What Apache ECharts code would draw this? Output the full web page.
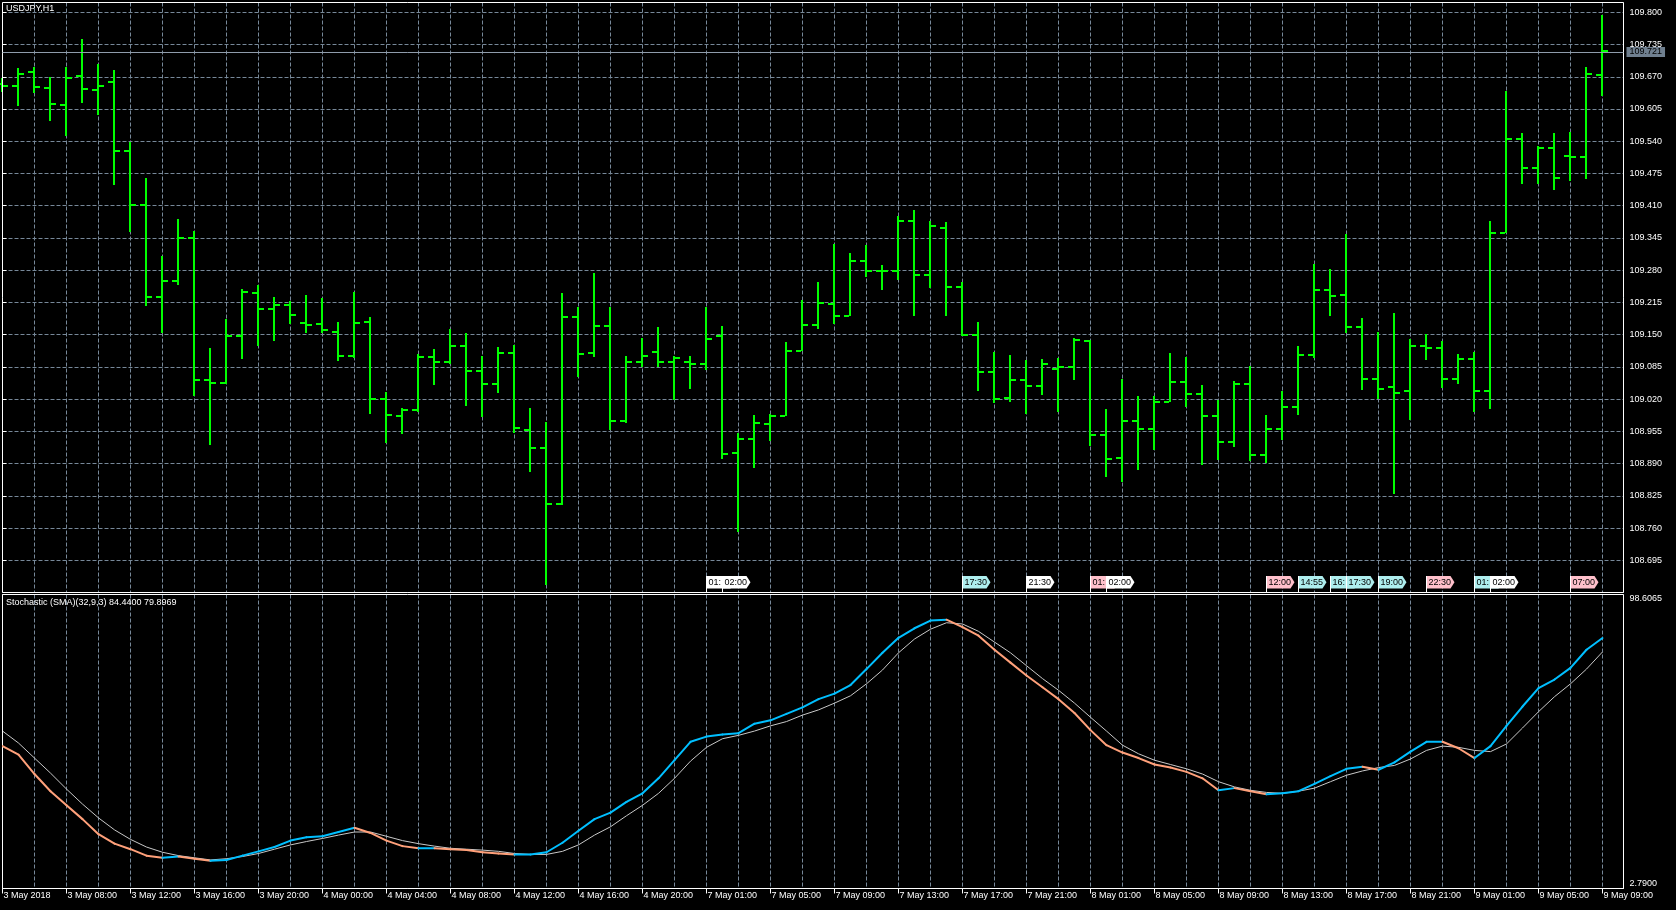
<!DOCTYPE html>
<html><head><meta charset="utf-8">
<script src="https://cdn.jsdelivr.net/npm/echarts@6/dist/echarts.min.js"></script>
<style>html,body{margin:0;padding:0;background:#000;}#c{width:1676px;height:910px;}</style>
</head><body><div id="c"></div>
<script>
// ---------- DATA ----------
const chartTitle = 'USDJPY,H1';
const stochName = 'Stochastic (SMA)(32,9,3)';
const tickLabels = ['3 May 2018','3 May 08:00','3 May 12:00','3 May 16:00','3 May 20:00','4 May 00:00','4 May 04:00','4 May 08:00','4 May 12:00','4 May 16:00','4 May 20:00','7 May 01:00','7 May 05:00','7 May 09:00','7 May 13:00','7 May 17:00','7 May 21:00','8 May 01:00','8 May 05:00','8 May 09:00','8 May 13:00','8 May 17:00','8 May 21:00','9 May 01:00','9 May 05:00','9 May 09:00'];
const opens  = [109.655,109.652,109.679,109.647,109.614,109.672,109.643,109.659,109.521,109.412,109.225,109.258,109.345,109.058,109.052,109.147,109.233,109.202,109.209,109.174,109.172,109.156,109.107,109.175,109.021,108.986,108.998,109.104,109.095,109.127,109.076,109.051,109.114,108.958,108.921,108.808,109.186,109.114,109.168,108.975,109.094,109.116,109.095,109.095,109.090,109.148,108.911,108.939,108.969,108.986,109.118,109.169,109.212,109.187,109.299,109.279,109.279,109.379,109.271,109.365,109.246,109.149,109.074,109.022,109.059,109.047,109.081,109.085,109.137,108.948,108.901,108.975,108.959,109.015,109.054,109.031,108.986,108.933,109.050,108.908,108.960,109.004,109.109,109.240,109.230,109.165,109.060,109.044,109.037,109.128,109.124,109.061,109.101,109.037,109.355,109.545,109.487,109.526,109.511,109.508,109.673];
const highs  = [109.668,109.687,109.689,109.670,109.690,109.747,109.696,109.683,109.539,109.466,109.309,109.383,109.360,109.124,109.182,109.243,109.250,109.226,109.217,109.229,109.223,109.176,109.236,109.186,109.035,109.003,109.111,109.122,109.162,109.154,109.107,109.125,109.130,109.002,108.973,109.233,109.206,109.274,109.206,109.107,109.143,109.165,109.107,109.107,109.206,109.168,108.951,108.987,108.989,109.135,109.219,109.257,109.333,109.314,109.331,109.290,109.389,109.401,109.379,109.377,109.256,109.176,109.116,109.108,109.098,109.101,109.103,109.143,109.139,109.000,109.060,109.026,109.026,109.114,109.104,109.049,109.019,109.057,109.086,108.987,109.037,109.128,109.292,109.282,109.352,109.184,109.155,109.193,109.141,109.151,109.138,109.111,109.116,109.379,109.641,109.556,109.531,109.556,109.558,109.690,109.794];
const lows   = [109.640,109.611,109.637,109.581,109.551,109.617,109.592,109.452,109.357,109.207,109.153,109.250,109.026,108.928,109.050,109.101,109.127,109.138,109.172,109.153,109.153,109.096,109.103,108.990,108.932,108.950,108.994,109.049,109.091,109.006,108.983,109.033,108.952,108.874,108.646,108.806,109.064,109.105,108.957,108.972,109.084,109.084,109.018,109.040,109.079,108.900,108.753,108.881,108.935,108.986,109.118,109.162,109.172,109.187,109.267,109.240,109.260,109.188,109.244,109.188,109.148,109.037,109.013,109.014,108.990,109.028,108.995,109.059,108.925,108.863,108.852,108.877,108.918,109.014,109.005,108.888,108.898,108.923,108.895,108.892,108.937,108.987,109.103,109.187,109.154,109.039,109.020,108.829,108.977,109.099,109.043,109.050,108.995,109.000,109.354,109.453,109.453,109.441,109.460,109.463,109.632];
const closes = [109.652,109.676,109.649,109.616,109.668,109.646,109.652,109.521,109.412,109.225,109.258,109.345,109.058,109.052,109.147,109.236,109.202,109.209,109.189,109.170,109.159,109.107,109.174,109.021,108.988,108.998,109.104,109.095,109.127,109.076,109.051,109.114,108.962,108.921,108.808,109.186,109.111,109.168,108.975,109.094,109.107,109.095,109.103,109.090,109.141,108.910,108.939,108.971,108.986,109.118,109.169,109.214,109.187,109.299,109.279,109.279,109.379,109.271,109.369,109.246,109.149,109.074,109.020,109.059,109.047,109.091,109.085,109.139,108.948,108.900,108.975,108.959,109.015,109.054,109.031,108.986,108.933,109.050,108.908,108.960,109.004,109.109,109.240,109.228,109.165,109.060,109.040,109.033,109.128,109.124,109.061,109.101,109.037,109.355,109.545,109.487,109.526,109.466,109.508,109.676,109.721];
const stochK = [49.2,46.4,40.1,34.5,29.9,25.4,20.5,17.4,15.6,13.5,12.8,13.2,12.5,11.8,12.1,13.5,14.9,16.3,18.4,19.5,19.8,21.2,22.6,20.9,18.4,16.6,15.9,15.9,15.6,15.3,14.6,14.2,13.9,13.9,14.6,17.7,21.6,25.4,27.5,31.0,33.8,38.7,44.6,50.6,52.3,53.0,53.4,56.5,57.6,59.7,61.8,64.5,66.3,69.1,74.3,79.6,84.5,87.6,90.1,90.4,88.0,85.2,80.6,76.4,72.2,68.4,64.5,60.0,54.4,49.5,47.1,45.3,43.2,42.2,40.8,38.7,34.8,35.5,34.5,33.5,33.8,34.5,36.9,39.4,41.8,42.5,41.5,43.9,47.4,50.6,50.6,48.5,45.3,49.2,55.8,62.1,68.1,70.9,74.7,80.6,84.44];
const stochD = [54.1,50.2,45.3,40.4,35.2,30.3,25.8,21.9,18.8,16.3,14.6,13.5,12.8,12.1,12.5,13.2,14.2,15.6,17.0,18.1,19.1,20.2,21.2,21.2,19.8,18.4,17.4,16.6,15.9,15.6,15.3,14.9,14.2,13.9,13.9,14.9,17.0,20.2,22.9,26.5,29.9,33.8,38.7,44.3,48.8,51.6,52.7,54.1,55.8,57.2,59.3,61.0,63.2,65.6,69.5,74.0,79.6,84.1,87.3,89.4,89.0,86.6,83.1,79.6,75.4,71.2,67.4,63.2,58.6,54.1,49.5,46.7,44.6,43.2,41.8,40.1,37.6,35.9,34.8,34.1,33.8,34.5,35.5,37.6,39.7,41.1,42.2,42.9,45.0,47.8,49.2,48.8,47.8,47.4,49.9,55.1,60.4,65.3,69.5,74.3,79.8969];
const stochRange = [2.79, 98.6065];
const priceMin = 108.630, priceMax = 109.800, priceStep = 0.065;
const eventBars   = [44,45,60,64,68,69,79,81,83,84,86,89,92,93,98];
const eventTimes  = ['01:00','02:00','17:30','21:30','01:00','02:00','12:00','14:55','16:00','17:30','19:00','22:30','01:00','02:00','07:00'];
const eventLevels = [0,0,1,0,2,0,2,1,1,1,1,2,1,0,2];

// ---------- STYLE / LAYOUT ----------
const FONT = 'Liberation Sans, Arial, sans-serif';
const FS = 9;
const GRIDC = '#778899';
const BAR = '#00ff00';
const UP = '#00bfff', DOWN = '#ffa07a', SIG = '#c8c8c8';
const LEVEL_COLORS = ['#ffffff', '#aeeeee', '#ffc0cb'];
const L = 2.5, W = 1621;
const XMAX = W / 16;
const STEP_PX = 32.235;
const g0Top = 12.3;
const g0H = STEP_PX * Math.round((priceMax - priceMin) / priceStep);
const dash = [4, 2];

const chart = echarts.init(document.getElementById('c'), null, {renderer: 'canvas'});
const lastClose = closes[closes.length - 1];

const ohlc = closes.map((c, i) => [i, opens[i], highs[i], lows[i], c]);
const kSeg = stochK.slice(0, -1).map((v, i) => [i, v, stochK[i + 1]]);
const dLine = stochD.map((v, i) => [i, v]);
const evData = eventBars.map((b, i) => [b, i]);

const hidden = {show: false};
const xGridAxis = (grid) => ({type: 'value', gridIndex: grid, min: 0, max: XMAX, interval: 2,
  axisLine: hidden, axisTick: hidden, axisLabel: hidden,
  splitLine: {show: true, lineStyle: {color: GRIDC, type: dash, width: 1}}});
const gridBase = {outerBoundsMode: 'none', containLabel: false};

const option = {
  backgroundColor: '#000',
  animation: false,
  textStyle: {fontFamily: FONT},
  title: [
    {text: chartTitle, left: 6, top: 4, padding: 0, textStyle: {color: '#fff', fontSize: FS, fontWeight: 'normal', fontFamily: FONT}},
    {text: stochName + ' ' + stochK[stochK.length - 1].toFixed(4) + ' ' + stochD[stochD.length - 1].toFixed(4),
     left: 6, top: 598.5, padding: 0, textStyle: {color: '#fff', fontSize: FS, fontWeight: 'normal', fontFamily: FONT}}
  ],
  grid: [
    Object.assign({left: L, width: W, top: g0Top, height: g0H, show: false}, gridBase),
    Object.assign({left: L, width: W, top: 594.5, height: 294, show: true, borderColor: '#fff', borderWidth: 1, backgroundColor: 'transparent', z: 3}, gridBase),
    Object.assign({left: L, width: W, top: 2.5, height: 590, show: true, borderColor: '#fff', borderWidth: 1, backgroundColor: 'transparent', z: 3}, gridBase)
  ],
  xAxis: [
    {type: 'value', gridIndex: 0, min: 0, max: XMAX, show: false},
    xGridAxis(1),
    {type: 'value', gridIndex: 1, min: 0, max: XMAX, interval: 4, position: 'bottom',
     axisLine: {show: true, lineStyle: {color: '#fff', width: 1}},
     axisTick: {show: true, length: 5, lineStyle: {color: '#fff'}},
     splitLine: hidden,
     axisLabel: {show: true, color: '#fff', fontSize: FS, fontFamily: FONT, align: 'left', margin: 3,
       showMinLabel: true, showMaxLabel: false, hideOverlap: false, padding: [0, 0, 0, 1],
       formatter: v => { const q = v / 4; return Number.isInteger(q) && tickLabels[q] ? tickLabels[q] : ''; }}},
    xGridAxis(2)
  ],
  yAxis: [
    {type: 'value', gridIndex: 0, position: 'right', min: priceMin, max: priceMax, interval: priceStep,
     axisLine: hidden,
     axisTick: {show: true, length: 4, lineStyle: {color: '#fff'}},
     splitLine: {show: true, lineStyle: {color: GRIDC, type: dash, width: 1}},
     axisLabel: {show: true, color: '#fff', fontSize: FS, fontFamily: FONT, margin: 6, showMinLabel: false, showMaxLabel: true,
       formatter: v => v.toFixed(3)}},
    {type: 'value', gridIndex: 1, position: 'right', min: stochRange[0], max: stochRange[1], interval: stochRange[1] - stochRange[0],
     axisLine: hidden, splitLine: hidden,
     axisTick: {show: true, length: 4, lineStyle: {color: '#fff'}},
     axisLabel: {show: true, color: '#fff', fontSize: FS, fontFamily: FONT, margin: 6, verticalAlign: 'top', showMinLabel: true, showMaxLabel: true,
       formatter: v => v > (stochRange[0] + stochRange[1]) / 2 ? v.toFixed(4) : ''}},
    {type: 'value', gridIndex: 1, position: 'right', min: stochRange[0], max: stochRange[1], interval: stochRange[1] - stochRange[0],
     axisLine: hidden, splitLine: hidden, axisTick: hidden,
     axisLabel: {show: true, color: '#fff', fontSize: FS, fontFamily: FONT, margin: 6, verticalAlign: 'bottom', showMinLabel: true, showMaxLabel: true,
       formatter: v => v < (stochRange[0] + stochRange[1]) / 2 ? v.toFixed(4) : ''}},
    {type: 'value', gridIndex: 2, min: 0, max: 1, show: false}
  ],
  series: [
    {
      type: 'custom', name: 'OHLC', xAxisIndex: 0, yAxisIndex: 0, data: ohlc,
      encode: {x: 0, y: [1, 2, 3, 4]}, clip: false, z: 2,
      renderItem: (params, api) => {
        const k = api.value(0);
        const pO = api.coord([k, api.value(1)]);
        const pH = api.coord([k, api.value(2)]);
        const pL = api.coord([k, api.value(3)]);
        const pC = api.coord([k, api.value(4)]);
        const x = Math.floor(pH[0]);
        const yo = Math.round(pO[1]), yc = Math.round(pC[1]);
        return {type: 'group', children: [
          {type: 'rect', shape: {x: x - 1, y: Math.round(pH[1]), width: 2, height: Math.max(1, Math.round(pL[1]) - Math.round(pH[1]))}, style: {fill: BAR}},
          {type: 'rect', shape: {x: x - 6, y: yo - 1, width: 5, height: 2}, style: {fill: BAR}},
          {type: 'rect', shape: {x: x + 1, y: yc - 1, width: 5, height: 2}, style: {fill: BAR}}
        ]};
      }
    },
    {
      type: 'line', name: 'price', xAxisIndex: 0, yAxisIndex: 0, data: [], silent: true,
      markLine: {
        symbol: 'none', silent: true, animation: false,
        lineStyle: {color: '#8f9cab', width: 1, type: 'solid'},
        label: {show: true, position: 'end', distance: 3, formatter: lastClose.toFixed(3),
          backgroundColor: '#6f7f8f', color: '#000', padding: [1, 3, 0, 3], fontSize: FS, fontFamily: FONT},
        data: [{yAxis: lastClose}]
      }
    },
    {
      type: 'custom', name: 'events', xAxisIndex: 0, yAxisIndex: 0, data: evData,
      encode: {x: 0}, clip: false, z: 4,
      renderItem: (params, api) => {
        const b = api.value(0), i = api.value(1);
        const p = api.coord([b, priceMin]);
        const B = p[1];
        const x = Math.floor(p[0]) + 0.5;
        const top = B - 16.5, bot = B - 4, mid = (top + bot) / 2;
        const w = 24;
        let avail = w + 2;
        if (i + 1 < eventBars.length) {
          const pn = api.coord([eventBars[i + 1], priceMin]);
          avail = Math.min(avail, Math.floor(pn[0]) + 0.5 - x);
        }
        return {type: 'group', children: [
          {type: 'polygon', z2: i * 3, shape: {points: [[x, top], [x + w, top], [x + w + 4, mid], [x + w, bot], [x, bot]]},
           style: {fill: LEVEL_COLORS[eventLevels[i]], stroke: null}},
          {type: 'text', z2: i * 3 + 1, x: x + 2, y: mid + 0.5,
           style: {text: eventTimes[i], fill: '#000', font: FS + 'px ' + FONT, verticalAlign: 'middle', align: 'left',
                   width: avail, overflow: 'truncate', ellipsis: ''}},
          {type: 'line', z2: i * 3 + 2, shape: {x1: x, y1: top, x2: x, y2: B}, style: {stroke: '#fff', lineWidth: 1}}
        ]};
      }
    },
    {
      type: 'line', name: 'signal', xAxisIndex: 1, yAxisIndex: 1, data: dLine, showSymbol: false, silent: true, z: 2,
      lineStyle: {color: SIG, width: 1}
    },
    {
      type: 'custom', name: 'main', xAxisIndex: 1, yAxisIndex: 1, data: kSeg,
      encode: {x: 0, y: [1, 2]}, z: 3, clip: true,
      renderItem: (params, api) => {
        const i = api.value(0), a = api.value(1), b = api.value(2);
        const p1 = api.coord([i, a]), p2 = api.coord([i + 1, b]);
        return {type: 'line', shape: {x1: p1[0], y1: p1[1], x2: p2[0], y2: p2[1]},
          style: {stroke: b >= a ? UP : DOWN, lineWidth: 2, lineCap: 'round'}};
      }
    }
  ]
};
chart.setOption(option);
</script>
</body></html>
